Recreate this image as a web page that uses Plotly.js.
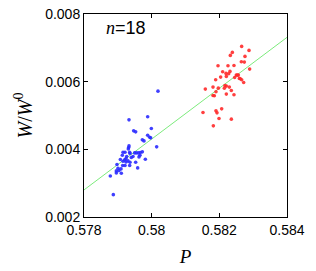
<!DOCTYPE html>
<html>
<head>
<meta charset="utf-8">
<script src="https://cdn.plot.ly/plotly-3.0.1.min.js"></script>
<style>html,body{margin:0;padding:0;background:#fff;}#chart{width:316px;height:271px;}</style>
</head>
<body>
<div id="chart"></div>
<script>
// Blue cluster (P, W/W0)
const blueP = [0.580187,0.579882,0.579330,0.579468,0.579527,0.579990,0.579882,0.579941,0.579970,0.579724,
  0.579773,0.579330,0.579320,0.579310,0.580148,0.579153,0.579212,0.579350,0.579497,0.579547,
  0.579606,0.579665,0.579724,0.579360,0.579133,0.579261,0.579241,0.579655,0.579626,0.579813,
  0.579074,0.579202,0.579153,0.579241,0.579300,0.579360,0.579527,0.578975,0.579143,0.579212,
  0.579350,0.579005,0.579094,0.578956,0.579034,0.579586,0.578956,0.579103,0.578778,0.578867,
  0.579399,0.579448];
const blueW = [0.005720,0.004961,0.004872,0.004546,0.004517,0.004615,0.004418,0.004359,0.004339,0.004280,
  0.004250,0.004102,0.004053,0.004013,0.004073,0.003915,0.003915,0.003915,0.003895,0.003895,
  0.003895,0.003905,0.003925,0.003875,0.003826,0.003786,0.003727,0.003826,0.003776,0.003707,
  0.003698,0.003688,0.003648,0.003628,0.003658,0.003619,0.003619,0.003550,0.003520,0.003520,
  0.003520,0.003441,0.003421,0.003362,0.003372,0.003451,0.003303,0.003293,0.003214,0.002661,
  0.003757,0.003786];
// Red cluster
const redP = [0.582660,0.582384,0.582877,0.582325,0.582758,0.582650,0.582739,0.581961,0.582256,0.582433,
  0.582896,0.582098,0.582315,0.582197,0.582276,0.582039,0.582207,0.582502,0.582561,0.581892,
  0.582453,0.582621,0.582660,0.582719,0.582167,0.582207,0.581813,0.582295,0.581586,0.582148,
  0.582355,0.581970,0.581901,0.582207,0.582433,0.581813,0.581852,0.582069,0.581901,0.581931,
  0.581517,0.581990,0.582355,0.581823,0.582532,0.582591];
const redW = [0.007043,0.006865,0.006924,0.006776,0.006747,0.006589,0.006579,0.006470,0.006470,0.006480,
  0.006372,0.006293,0.006303,0.006244,0.006234,0.006135,0.006155,0.006194,0.006194,0.006056,
  0.006125,0.006086,0.006056,0.005977,0.005888,0.005869,0.005839,0.005839,0.005780,0.005809,
  0.005740,0.005809,0.005701,0.005632,0.005612,0.005592,0.005582,0.005197,0.005138,0.005079,
  0.005089,0.004911,0.004892,0.004694,0.006194,0.006096];
// Fit line endpoints
const fitP = [0.578, 0.584];
const fitW = [0.00280, 0.00731];
const xTicks = [0.578, 0.58, 0.582, 0.584];
const xTickText = ['0.578', '0.58', '0.582', '0.584'];
const yTicks = [0.002, 0.004, 0.006, 0.008];
const yTickText = ['0.002', '0.004', '0.006', '0.008'];

const traces = [
  {x: fitP, y: fitW, mode: 'lines', line: {color: '#7CEB7C', width: 1}, hoverinfo: 'skip'},
  {x: blueP, y: blueW, mode: 'markers', marker: {color: '#2a2aff', size: 3.6, opacity: 0.9}},
  {x: redP, y: redW, mode: 'markers', marker: {color: '#ff2a2a', size: 3.6, opacity: 0.9}}
];
const axisCommon = {
  showgrid: false, zeroline: false, showline: true, linecolor: '#000', linewidth: 1,
  mirror: 'ticks', ticks: 'inside', ticklen: 4, tickcolor: '#000',
  tickfont: {family: 'Liberation Sans, Arial, sans-serif', size: 14, color: '#000'}
};
const layout = {
  width: 316, height: 271,
  margin: {l: 84, r: 29, t: 14, b: 54},
  paper_bgcolor: '#fff', plot_bgcolor: '#fff',
  showlegend: false,
  xaxis: Object.assign({}, axisCommon, {
    range: [0.578, 0.584], tickvals: xTicks, ticktext: xTickText,
    title: {text: '<i>P</i>', font: {family: 'Liberation Serif, Times New Roman, serif', size: 19, color: '#000'}, standoff: 12}
  }),
  yaxis: Object.assign({}, axisCommon, {
    range: [0.002, 0.008], tickvals: yTicks, ticktext: yTickText,
    title: {text: '<i>W</i>/<i>W</i><sup>0</sup>', font: {family: 'Liberation Serif, Times New Roman, serif', size: 20, color: '#000'}, standoff: 7}
  }),
  annotations: [{
    xref: 'paper', yref: 'paper', x: 0.1, y: 0.93, xanchor: 'left', yanchor: 'middle', showarrow: false,
    text: '<span style="font-family:Liberation Serif;font-style:italic">n</span>=18',
    font: {family: 'Liberation Sans, Arial, sans-serif', size: 18, color: '#000'}
  }]
};
Plotly.newPlot('chart', traces, layout, {staticPlot: true, displayModeBar: false});
</script>
</body>
</html>
